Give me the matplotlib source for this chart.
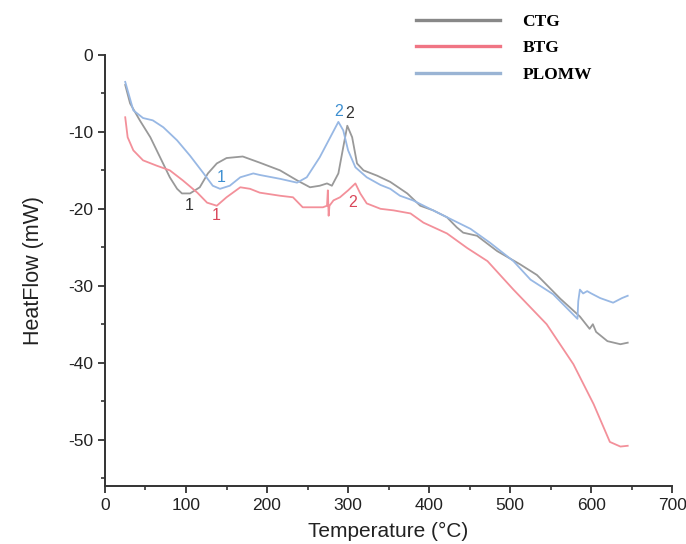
import numpy as np
import matplotlib
matplotlib.use("Agg")
import matplotlib.pyplot as plt

# CTG (gray)
ctg_t = [25, 31, 43, 56, 68, 80, 89, 95, 105, 117, 127, 138, 150, 170, 191, 216, 237, 253, 265, 274, 280,
         288, 294, 299, 305, 311, 319, 336, 352, 373, 389, 405, 422, 434, 442, 459, 484, 512, 533, 562, 586,
         598, 602, 606, 620, 636, 645]
ctg_hf = [-3.9, -6.3, -8.5, -10.7, -13.3, -15.9, -17.4, -18.0, -18.0, -17.2, -15.4, -14.1, -13.4, -13.2, -14.0,
          -15.0, -16.3, -17.2, -17.0, -16.7, -17.0, -15.4, -12.0, -9.2, -10.7, -14.1, -15.0, -15.7, -16.5,
          -18.0, -19.6, -20.2, -21.1, -22.4, -23.1, -23.5, -25.5, -27.2, -28.6, -31.7, -34.0, -35.6, -35.0,
          -36.0, -37.2, -37.6, -37.4]

# BTG (red)
btg_t = [25, 28, 35, 47, 64, 80, 96, 114, 126, 138, 150, 167, 179, 191, 216, 232, 244, 269, 274, 275, 276,
         277, 282, 290, 300, 309, 315, 323, 340, 356, 377, 393, 422, 447, 472, 491, 504, 545, 578, 603, 623,
         636, 645]
btg_hf = [-8.1, -10.7, -12.4, -13.7, -14.4, -15.0, -16.3, -17.9, -19.2, -19.6, -18.5, -17.2, -17.4, -17.9,
          -18.3, -18.5, -19.8, -19.8, -19.6, -17.6, -20.9, -19.6, -18.9, -18.5, -17.6, -16.7, -18.0, -19.3,
          -20.0, -20.2, -20.6, -21.8, -23.2, -25.1, -26.8, -29.0, -30.5, -35.0, -40.2, -45.4, -50.3, -50.9,
          -50.8]

# PLOMW (blue)
plomw_t = [25, 35, 47, 59, 72, 89, 105, 121, 133, 142, 154, 167, 183, 191, 216, 237, 249, 265, 278, 288, 294,
           300, 309, 323, 340, 352, 364, 380, 401, 426, 451, 475, 504, 525, 553, 583, 584, 586, 590, 595, 600,
           611, 627, 638, 645]
plomw_hf = [-3.5, -7.2, -8.2, -8.5, -9.4, -11.1, -13.1, -15.3, -17.0, -17.4, -17.0, -15.9, -15.4, -15.6, -16.1,
            -16.6, -15.9, -13.3, -10.7, -8.7, -9.8, -12.4, -14.6, -15.9, -16.9, -17.4, -18.3, -18.9, -20.0,
            -21.3, -22.6, -24.4, -26.8, -29.2, -31.1, -34.3, -32.0, -30.5, -31.0, -30.7, -31.0, -31.6, -32.2,
            -31.6, -31.3]

# peak labels: (T, HF, text, colour)
peak_labels = [(104, -19.6, "1", "#333333"), (137, -20.9, "1", "#d9475a"), (144, -15.9, "1", "#3d8fd1"),
               (288, -7.4, "2", "#3d8fd1"), (302, -7.6, "2", "#333333"), (306, -19.2, "2", "#d9475a")]

plt.rcParams['font.family'] = ['Liberation Sans', 'DejaVu Sans']
plt.rcParams['axes.unicode_minus'] = False

fig = plt.figure(figsize=(6.86, 5.44), dpi=100)
ax = fig.add_axes([0.153, 0.107, 0.827, 0.792])

ax.plot(ctg_t, ctg_hf, color="#999999", lw=1.3, label="CTG")
ax.plot(btg_t, btg_hf, color="#f3909a", lw=1.3, label="BTG")
ax.plot(plomw_t, plomw_hf, color="#98b8e4", lw=1.3, label="PLOMW")

for t, h, s, c in peak_labels:
    ax.text(t, h, s, color=c, fontsize=11.5, ha="center", va="center")

ax.set_xlim(0, 700)
ax.set_ylim(-56, 0)
ax.set_xticks(np.arange(0, 701, 100))
ax.set_xticks(np.arange(50, 701, 100), minor=True)
ax.set_yticks(np.arange(-50, 1, 10))
ax.set_yticks(np.arange(-55, 0, 10), minor=True)

for s in ["top", "right"]:
    ax.spines[s].set_visible(False)
for s in ["left", "bottom"]:
    ax.spines[s].set_linewidth(1.4)
    ax.spines[s].set_color("#333333")
ax.tick_params(which="major", length=5, width=1.3, color="#333333", labelsize=12.5, labelcolor="#222222")
ax.tick_params(which="minor", length=3, width=1.2, color="#333333")

ax.set_xlabel("Temperature (°C)", fontsize=15, color="#222222", labelpad=7)
ax.set_ylabel("HeatFlow (mW)", fontsize=15.5, color="#222222", labelpad=17)

leg = fig.legend(loc="upper left", bbox_to_anchor=(0.607, 0.975), frameon=False,
                 borderpad=0, borderaxespad=0, handlelength=4.8, handletextpad=1.3,
                 labelspacing=0.6, prop={"family": "Liberation Serif", "weight": "bold", "size": 12.5})
for line in leg.get_lines():
    line.set_linewidth(2.4)
leg.get_lines()[0].set_color("#888888")
leg.get_lines()[1].set_color("#f07584")
leg.get_lines()[2].set_color("#9ab4d4")

fig.savefig("out.png", dpi=100)
